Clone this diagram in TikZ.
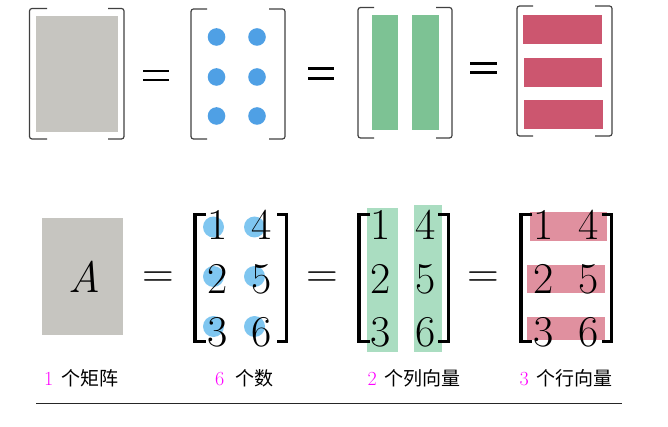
\documentclass[tikz,border=0pt]{standalone}
\usepackage{fontspec}
\newfontfamily\cjk{Noto Sans CJK SC}
\definecolor{mgray}{HTML}{C6C5C0}
\definecolor{dotblue}{HTML}{4FA0E5}
\definecolor{dotlight}{HTML}{7FC6F0}
\definecolor{colgreen}{HTML}{7DC294}
\definecolor{collight}{HTML}{AADDC1}
\definecolor{rowred}{HTML}{CC566F}
\definecolor{rowlight}{HTML}{E0909F}
\definecolor{labmag}{HTML}{FF00FF}
\tikzset{
  thinbr/.style={draw=black!75, line width=1.2pt, rounded corners=2.5pt},
  thickbr/.style={draw=black, line width=3.5pt},
  topeq/.style={draw=black, line width=2.8pt},
  num/.style={font=\fontsize{44}{44}\selectfont, inner sep=0pt, anchor=base},
  eqsign/.style={font=\fontsize{44}{44}\selectfont, inner sep=0pt, anchor=base},
  labnum/.style={text=labmag, font=\fontsize{20}{20}\selectfont, inner sep=0pt, anchor=base west},
  labcjk/.style={font=\cjk\fontsize{19}{19}\selectfont, inner sep=0pt, anchor=base west},
}
% thin top brackets: #1 left x, #2 left serif end, #3 right x, #4 right serif start, #5 top, #6 bottom
\newcommand{\thinpair}[6]{%
  \draw[thinbr] (#2,#5) -- (#1,#5) -- (#1,#6) -- (#2,#6);
  \draw[thinbr] (#4,#5) -- (#3,#5) -- (#3,#6) -- (#4,#6);}
% thick bottom brackets: #1 left outer, #2 left serif end, #3 right outer, #4 right serif start
\newcommand{\thickpair}[4]{%
  \draw[thickbr] (#2,214.75) -- (#1+1.75,214.75) -- (#1+1.75,341.25) -- (#2,341.25);
  \draw[thickbr] (#4,214.75) -- (#3-1.75,214.75) -- (#3-1.75,341.25) -- (#4,341.25);}
\begin{document}
\begin{tikzpicture}[x=1pt,y=-1pt]
\useasboundingbox (0,0) rectangle (668,427);
% ---------- top row ----------
\fill[mgray] (36,16) rectangle (118,132);
\thinpair{29.5}{47}{124}{108}{8.5}{139}
\draw[topeq] (143,71) -- (169,71) (143,80) -- (169,80);
\foreach \yy in {37,77,116} {
  \fill[dotblue] (216.5,\yy) circle (8.8);
  \fill[dotblue] (257,\yy) circle (8.8);
}
\thinpair{191}{207}{285}{269}{9}{139}
\draw[topeq] (308,68.3) -- (334,68.3) (308,78.3) -- (334,78.3);
\fill[colgreen] (372,15) rectangle (398,130);
\fill[colgreen] (412,15) rectangle (439,130);
\thinpair{358}{374}{452}{436}{7.5}{138}
\draw[topeq] (470,63.3) -- (497,63.3) (470,72.3) -- (497,72.3);
\fill[rowred] (523,15.3) rectangle (602,44);
\fill[rowred] (523.7,58.3) rectangle (602,86.7);
\fill[rowred] (524.3,100) rectangle (603,129);
\thinpair{517}{533}{612}{595}{6}{136}
% ---------- bottom row ----------
\fill[mgray] (42,218) rectangle (123,335);
\node[font=\fontsize{44}{44}\selectfont\itshape, inner sep=0pt] (A) at (84,276.5) {A};
\node[eqsign] (e1) at (158,287) {=};
\foreach \yy in {227,276.5,326.5} {
  \fill[dotlight] (213.5,\yy) circle (10.5);
  \fill[dotlight] (254.5,\yy) circle (10.5);
}
\thickpair{193}{206}{288}{277}
\node[num] (m11) at (217.5,240) {1};
\node[num] (m14) at (262,240) {4};
\node[num] (m12) at (217.5,293) {2};
\node[num] (m15) at (262,293) {5};
\node[num] (m13) at (217.5,346) {3};
\node[num] (m16) at (262,346) {6};
\node[eqsign] (e2) at (322,287) {=};
\fill[collight] (367,208) rectangle (398,352);
\fill[collight] (414,205) rectangle (442,352);
\thickpair{357}{370}{450}{438}
\node[num] (c11) at (381,240) {1};
\node[num] (c14) at (426,240) {4};
\node[num] (c12) at (381,293) {2};
\node[num] (c15) at (426,293) {5};
\node[num] (c13) at (381,346) {3};
\node[num] (c16) at (426,346) {6};
\node[eqsign] (e3) at (483.5,287) {=};
\fill[rowlight] (530,212) rectangle (607,241);
\fill[rowlight] (527,265) rectangle (605,293);
\fill[rowlight] (527,317) rectangle (605,340);
\thickpair{519}{532}{613}{602}
\node[num] (r11) at (543.5,240) {1};
\node[num] (r14) at (588.5,240) {4};
\node[num] (r12) at (543.5,293) {2};
\node[num] (r15) at (588.5,293) {5};
\node[num] (r13) at (543.5,346) {3};
\node[num] (r16) at (588.5,346) {6};
% ---------- labels ----------
\node[labnum] (n1) at (44,385) {1};
\node[labcjk] (t1) at (61,385) {个矩阵};
\node[labnum] (n2) at (215,385) {6};
\node[labcjk] (t2) at (235,385) {个数};
\node[labnum] (n3) at (367.5,385) {2};
\node[labcjk] (t3) at (384,385) {个列向量};
\node[labnum] (n4) at (519.5,385) {3};
\node[labcjk] (t4) at (536,385) {个行向量};
\coordinate (ls) at (36,403);
\coordinate (le) at (622,403);
\draw[black!85, line width=1pt] (ls) -- (le);
\end{tikzpicture}
\end{document}
